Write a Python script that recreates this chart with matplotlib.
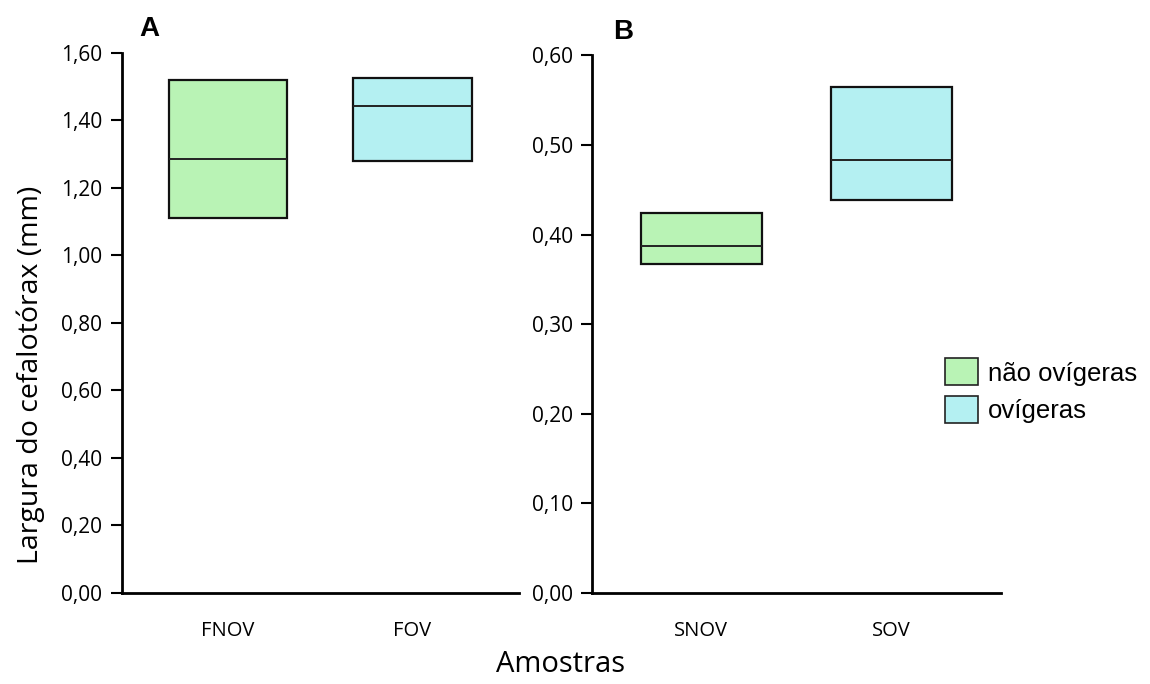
import matplotlib
matplotlib.use('Agg')
import matplotlib.pyplot as plt
from matplotlib.patches import Patch
from matplotlib.ticker import FuncFormatter

# box data (lower quartile, median, upper quartile)
cats_a = ['FNOV', 'FOV']
q1_a = [1.109, 1.280]
med_a = [1.286, 1.443]
q3_a = [1.520, 1.526]

cats_b = ['SNOV', 'SOV']
q1_b = [0.367, 0.439]
med_b = [0.387, 0.483]
q3_b = [0.424, 0.565]

yticks_a = [0.0, 0.2, 0.4, 0.6, 0.8, 1.0, 1.2, 1.4, 1.6]
yticks_b = [0.0, 0.1, 0.2, 0.3, 0.4, 0.5, 0.6]

legend_labels = ['não ovígeras', 'ovígeras']
colors = ['#b9f3b5', '#b4f0f2']

plt.rcParams['font.family'] = ['Open Sans', 'DejaVu Sans']

fig = plt.figure(figsize=(11.5, 6.84), dpi=100)
ax_a = fig.add_axes([0.106, 0.133, 0.345, 0.790])
ax_b = fig.add_axes([0.515, 0.133, 0.355, 0.786])

comma = FuncFormatter(lambda v, p: f'{v:.2f}'.replace('.', ','))


def draw_panel(ax, cats, q1, med, q3, yticks, letter, lx):
    x = range(len(cats))
    heights = [b - a for a, b in zip(q1, q3)]
    ax.bar(x, heights, bottom=q1, width=0.64, color=colors,
           edgecolor='#111111', linewidth=1.6)
    for i, m in enumerate(med):
        ax.hlines(m, i - 0.32, i + 0.32, color='#222222', linewidth=1.4)
    ax.set_xlim(-0.575, 1.575)
    ax.set_ylim(yticks[0], yticks[-1])
    ax.set_yticks(yticks)
    ax.yaxis.set_major_formatter(comma)
    ax.set_xticks(list(x))
    ax.set_xticklabels(cats, fontsize=14.5)
    ax.tick_params(axis='x', length=0, pad=20)
    ax.tick_params(axis='y', direction='out', length=8, width=1.5, pad=6, labelsize=15)
    for s in ['top', 'right']:
        ax.spines[s].set_visible(False)
    for s in ['left', 'bottom']:
        ax.spines[s].set_linewidth(2)
    ax.text(lx, 1.02, letter, transform=ax.transAxes, fontsize=20,
            fontweight='bold', family=['Liberation Sans', 'DejaVu Sans'], va='bottom')


draw_panel(ax_a, cats_a, q1_a, med_a, q3_a, yticks_a, 'A', 0.045)
draw_panel(ax_b, cats_b, q1_b, med_b, q3_b, yticks_b, 'B', 0.05)

ax_a.set_ylabel('Largura do cefalotórax (mm)', fontsize=20.5)
ax_a.yaxis.set_label_coords(-0.195, 0.403)
fig.text(0.487, 0.008, 'Amostras', ha='center', va='bottom', fontsize=21)

handles = [Patch(facecolor=c, edgecolor='#222222', linewidth=1.2) for c in colors]
fig.legend(handles, legend_labels, loc='upper left', bbox_to_anchor=(0.802, 0.51),
           frameon=False, handlelength=1.25, handleheight=1.25,
           handletextpad=0.4, labelspacing=0.4,
           prop={'family': ['Liberation Sans', 'DejaVu Sans'], 'size': 18.5})

plt.savefig('out.png', dpi=100)
plt.close()
